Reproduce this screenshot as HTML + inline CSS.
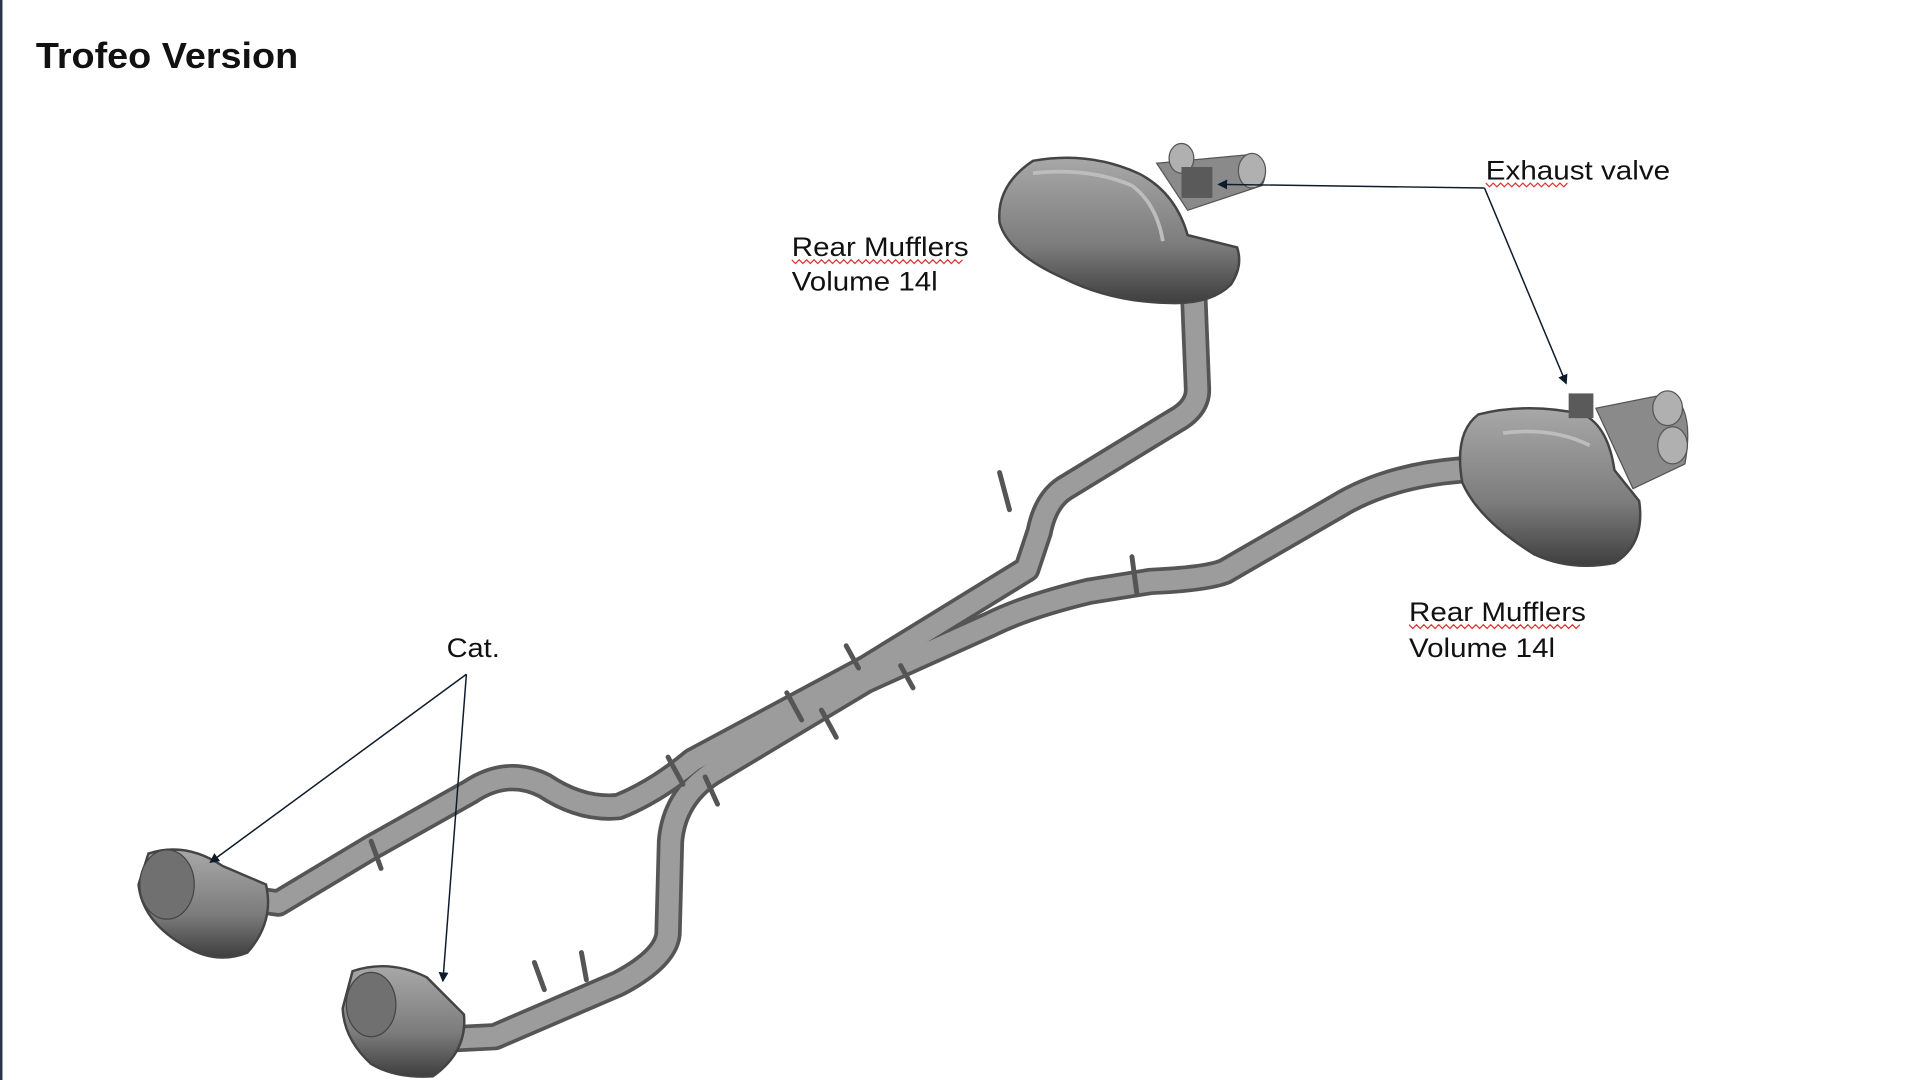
<!DOCTYPE html>
<html><head><meta charset="utf-8"><style>
html,body{margin:0;padding:0;background:#fff;width:1920px;height:1080px;overflow:hidden}
svg{display:block}
text{font-family:"Liberation Sans",sans-serif;fill:#111}
</style></head><body>
<svg width="1920" height="1080" viewBox="0 0 1552 873" preserveAspectRatio="none">
<defs>
<marker id="ah" markerWidth="8" markerHeight="8" refX="7" refY="4" orient="auto" markerUnits="userSpaceOnUse"><path d="M0,0 L8,4 L0,8 z" fill="#0d1b2a"/></marker>
<linearGradient id="mg" x1="0" y1="0" x2="0" y2="1"><stop offset="0" stop-color="#a8a8a8"/><stop offset="0.6" stop-color="#7c7c7c"/><stop offset="1" stop-color="#3e3e3e"/></linearGradient>
</defs>
<rect x="0" y="0" width="2" height="873" fill="#2a3545"/>
<text x="29" y="55" font-size="29" font-weight="bold" fill="#000" textLength="212" lengthAdjust="spacingAndGlyphs">Trofeo Version</text>

<g fill="none" stroke-linecap="round" stroke-linejoin="round">
<path d="M965,240 L968,315 Q968,330 950,340 L860,395 Q845,405 840,430 L830,460 L700,540 L560,615 Q530,640 500,652 Q470,655 440,635 Q410,620 380,640 L300,685 L225,730 L190,725" stroke="#555" stroke-width="22"/>
<path d="M1180,380 Q1120,385 1080,410 L990,462 Q975,468 930,470 L880,478 Q830,490 800,505 L700,550 L575,625 Q545,645 542,680 L540,755 Q538,775 500,795 L400,838 L360,840" stroke="#555" stroke-width="22"/>
<path d="M965,240 L968,315 Q968,330 950,340 L860,395 Q845,405 840,430 L830,460 L700,540 L560,615 Q530,640 500,652 Q470,655 440,635 Q410,620 380,640 L300,685 L225,730 L190,725" stroke="#9c9c9c" stroke-width="16"/>
<path d="M1180,380 Q1120,385 1080,410 L990,462 Q975,468 930,470 L880,478 Q830,490 800,505 L700,550 L575,625 Q545,645 542,680 L540,755 Q538,775 500,795 L400,838 L360,840" stroke="#9c9c9c" stroke-width="16"/>
<g stroke="#555" stroke-width="4">
<path d="M540,612 l12,22 M570,628 l10,22 M636,560 l12,22 M664,574 l12,22 M684,522 l10,18 M728,538 l10,18"/>
<path d="M808,382 l8,30 M915,450 l4,30 M432,778 l8,22 M470,770 l4,22 M300,680 l8,22"/>
</g>
</g>

<g>
<path d="M935,132 L1010,125 Q1028,135 1020,150 L960,170 Z" fill="#8a8a8a" stroke="#555"/>
<ellipse cx="1012" cy="138" rx="11" ry="14" fill="#b0b0b0" stroke="#555"/>
<ellipse cx="955" cy="128" rx="10" ry="12" fill="#b0b0b0" stroke="#555"/>
<path d="M835,130 Q880,122 920,140 Q950,155 960,190 L1000,200 Q1005,215 995,230 Q980,245 950,245 Q900,245 860,225 Q815,205 808,180 Q805,150 835,130 Z" fill="url(#mg)" stroke="#444" stroke-width="2"/>
<path d="M835,140 Q880,135 915,150 Q935,165 940,195" fill="none" stroke="#bdbdbd" stroke-width="3"/>
<rect x="955" y="135" width="25" height="25" fill="#5a5a5a"/>
</g>
<g>
<path d="M1290,330 L1350,318 Q1370,330 1362,375 L1320,395 Z" fill="#8a8a8a" stroke="#555"/>
<ellipse cx="1348" cy="330" rx="12" ry="14" fill="#b0b0b0" stroke="#555"/>
<ellipse cx="1352" cy="360" rx="12" ry="15" fill="#b0b0b0" stroke="#555"/>
<path d="M1195,335 Q1235,325 1280,335 Q1300,345 1305,380 L1325,405 Q1330,440 1305,455 Q1270,462 1240,448 Q1195,420 1182,390 Q1175,350 1195,335 Z" fill="url(#mg)" stroke="#444" stroke-width="2"/>
<path d="M1215,350 Q1255,345 1285,360" fill="none" stroke="#bdbdbd" stroke-width="3"/>
<rect x="1268" y="318" width="20" height="20" fill="#5a5a5a"/>
</g>
<g>
<path d="M120,690 Q150,680 180,700 L215,715 Q222,745 200,770 Q175,780 150,765 Q115,745 112,715 Z" fill="url(#mg)" stroke="#444" stroke-width="2"/>
<ellipse cx="135" cy="715" rx="22" ry="28" fill="#707070" stroke="#444"/>
<path d="M285,785 Q315,775 345,790 L375,820 Q378,850 350,870 Q320,872 300,860 Q278,840 277,815 Z" fill="url(#mg)" stroke="#444" stroke-width="2"/>
<ellipse cx="300" cy="812" rx="20" ry="26" fill="#707070" stroke="#444"/>
</g>

<g stroke="#0d1b2a" stroke-width="1.2" fill="none">
<path d="M1200,152 L985,149" marker-end="url(#ah)"/>
<path d="M1200,152 L1266,310" marker-end="url(#ah)"/>
<path d="M377,545 L170,697" marker-end="url(#ah)"/>
<path d="M377,545 L358,793" marker-end="url(#ah)"/>
</g>
<text x="1201" y="145" font-size="22" textLength="149" lengthAdjust="spacingAndGlyphs">Exhaust valve</text>
<text x="640" y="207" font-size="22" textLength="143" lengthAdjust="spacingAndGlyphs">Rear Mufflers</text>
<text x="640" y="235" font-size="22" textLength="118" lengthAdjust="spacingAndGlyphs">Volume 14l</text>
<text x="1139" y="502" font-size="22" textLength="143" lengthAdjust="spacingAndGlyphs">Rear Mufflers</text>
<text x="1139" y="531" font-size="22" textLength="118" lengthAdjust="spacingAndGlyphs">Volume 14l</text>
<text x="361" y="531" font-size="22" textLength="43" lengthAdjust="spacingAndGlyphs">Cat.</text>
<g stroke="#d33" stroke-width="1" fill="none">
<path d="M1201,148 l3,3 l3,-3 l3,3 l3,-3 l3,3 l3,-3 l3,3 l3,-3 l3,3 l3,-3 l3,3 l3,-3 l3,3 l3,-3 l3,3 l3,-3 l3,3 l3,-3 l3,3 l3,-3 l3,3 l3,-3"/>
<path d="M640,210 l3,3 l3,-3 l3,3 l3,-3 l3,3 l3,-3 l3,3 l3,-3 l3,3 l3,-3 l3,3 l3,-3 l3,3 l3,-3 l3,3 l3,-3 l3,3 l3,-3 l3,3 l3,-3 l3,3 l3,-3 l3,3 l3,-3 l3,3 l3,-3 l3,3 l3,-3 l3,3 l3,-3 l3,3 l3,-3 l3,3 l3,-3 l3,3 l3,-3 l3,3 l3,-3 l3,3 l3,-3 l3,3 l3,-3 l3,3 l3,-3 l3,3 l3,-3"/>
<path d="M1139,505 l3,3 l3,-3 l3,3 l3,-3 l3,3 l3,-3 l3,3 l3,-3 l3,3 l3,-3 l3,3 l3,-3 l3,3 l3,-3 l3,3 l3,-3 l3,3 l3,-3 l3,3 l3,-3 l3,3 l3,-3 l3,3 l3,-3 l3,3 l3,-3 l3,3 l3,-3 l3,3 l3,-3 l3,3 l3,-3 l3,3 l3,-3 l3,3 l3,-3 l3,3 l3,-3 l3,3 l3,-3 l3,3 l3,-3 l3,3 l3,-3 l3,3 l3,-3"/>
</g>
</svg>
</body></html>
